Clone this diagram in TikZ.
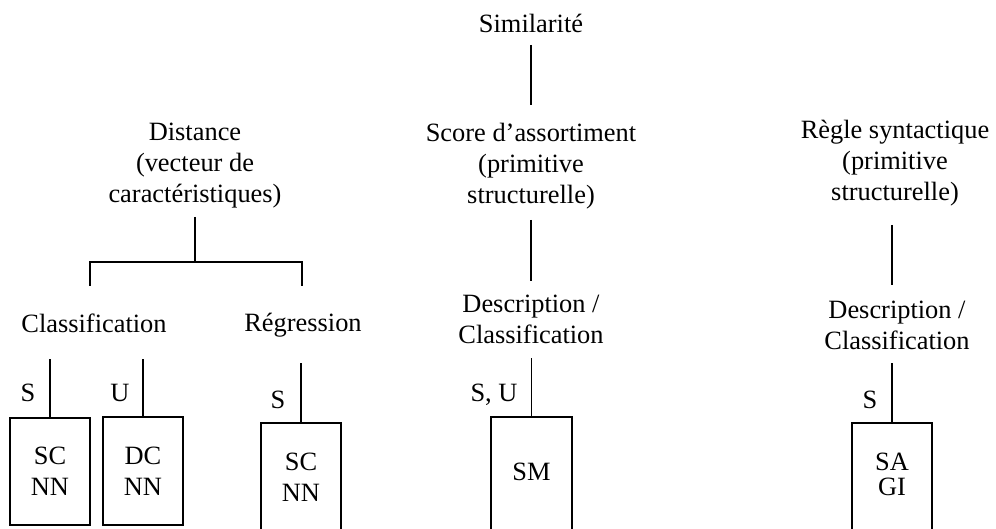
\documentclass[tikz,border=0pt]{standalone}
\usepackage{fontspec}
\setmainfont{Liberation Serif}
\begin{document}
\begin{tikzpicture}[x=1pt,y=-1pt,
  txt/.style={inner sep=0pt, align=center, font=\fontsize{26.4}{31}\selectfont},
  lbl/.style={inner sep=0pt, font=\fontsize{26.4}{31}\selectfont},
  conn/.style={line width=1.5pt},
  boxc/.style={draw, line width=2pt, minimum width=80pt, inner sep=0pt, align=center, font=\fontsize{26.4}{31}\selectfont},
  boxo/.style={minimum width=80pt, inner sep=0pt, align=center, font=\fontsize{26.4}{31}\selectfont},
  side/.style={line width=2pt}]
\useasboundingbox (0,0) rectangle (996,529);

% text nodes
\node[txt] (sim) at (531,23) {Similarité};
\node[txt] (dist) at (195,166) {Distance\\(vecteur de\\caractéristiques)};
\node[txt] (score) at (531,166) {Score d’assortiment\\(primitive\\structurelle)};
\node[txt] (regle) at (895,163) {Règle syntactique\\(primitive\\structurelle)};
\node[txt] (cls) at (94,323) {Classification};
\node[txt] (reg) at (303,325) {Régression};
\node[txt] (desc1) at (531,319) {Description /\\Classification};
\node[txt] (desc2) at (897,325) {Description /\\Classification};

% boxes
\node[boxc, minimum height=107pt] (b1) at (50,471.5) {SC\\NN};
\node[boxc, minimum height=108pt] (b2) at (143,471) {DC\\NN};
\node[boxo, minimum height=108pt] (b3) at (301,477) {SC\\NN};
\node[boxo, minimum height=110pt] (b4) at (531.5,472) {SM};
\node[boxo, minimum height=102pt] (b5) at (892,474) {SA\\[-6pt]GI};
\foreach \b in {b3,b4,b5}{
  \draw[side] (\b.north west |- 0,535) -- (\b.north west) -- (\b.north east) -- (\b.north east |- 0,535);
}

% labels
\node[lbl] (s1) at (28,393) {S};
\node[lbl] (u2) at (120,393) {U};
\node[lbl] (s3) at (278,400) {S};
\node[lbl] (su4) at (494,395) {S, U};
\node[lbl] (s5) at (870,400) {S};

% connectors
\draw[conn] (sim |- 0,45) -- (sim |- 0,105);
\draw[conn] (score |- 0,220) -- (score |- 0,281);
\draw[conn] (b4.north |- 0,358) -- (b4.north);
\draw[conn] (dist |- 0,217) -- (dist |- 0,262);
\draw[conn] ([xshift=-4pt]cls |- 0,286) -- ([xshift=-4pt]cls |- 0,262) -- ([xshift=-1pt]reg |- 0,262) -- ([xshift=-1pt]reg |- 0,286);
\draw[conn] (b1.north |- 0,359) -- (b1.north);
\draw[conn] (b2.north |- 0,359) -- (b2.north);
\draw[conn] (b3.north |- 0,363) -- (b3.north);
\draw[conn] (b5.north |- 0,225) -- (b5.north |- 0,285);
\draw[conn] (b5.north |- 0,363) -- (b5.north);
\end{tikzpicture}
\end{document}
